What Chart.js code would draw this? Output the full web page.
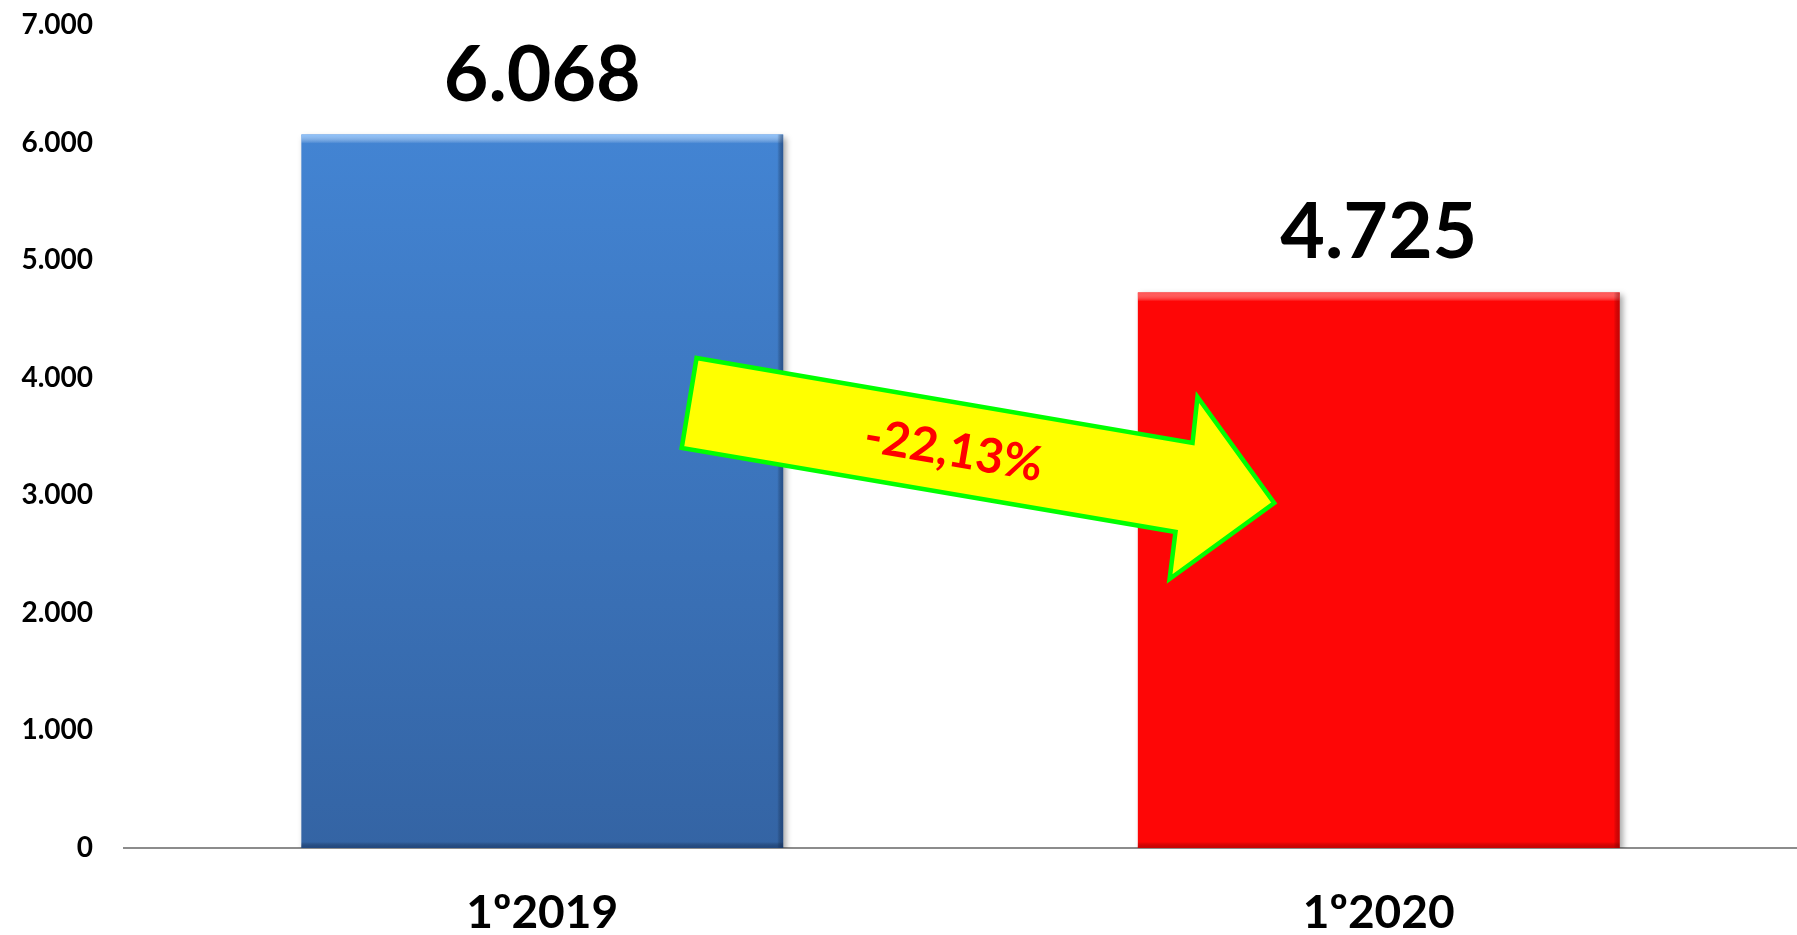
<!DOCTYPE html>
<html>
<head>
<meta charset="utf-8">
<script src="https://cdn.jsdelivr.net/npm/chart.js@4.4.1/dist/chart.umd.min.js"></script>
<style>
  html, body { margin: 0; padding: 0; background: #fff; }
  #wrap { width: 1797px; height: 935px; position: relative; }
</style>
</head>
<body>
<div id="wrap"><canvas id="chart"></canvas></div>
<script>
const categories = ['1º2019', '1º2020'];
const values = [6068, 4725];
const yTicks = [0, 1000, 2000, 3000, 4000, 5000, 6000, 7000];
const changeLabel = '-22,13%';

const FONT = 'Lato, "Open Sans", sans-serif';

function fmt(v) {
    return String(v).replace(/\B(?=(\d{3})+(?!\d))/g, '.');
}

// blue bar gets a vertical gradient, red stays flat
function barFill(ctx) {
    const chart = ctx.chart;
    const area = chart.chartArea;
    if (!area) return '#3f7cc8';
    if (ctx.dataIndex === 1) return '#fe0606';
    const g = chart.ctx.createLinearGradient(0, area.top, 0, area.bottom);
    g.addColorStop(0, '#4589da');
    g.addColorStop(1, '#3464a4');
    return g;
}

const shadowPlugin = {
    id: 'shadow',
    beforeDatasetsDraw(chart) {
        const c = chart.ctx;
        c.save();
        c.shadowColor = 'rgba(0,0,0,0.35)';
        c.shadowBlur = 6;
        c.shadowOffsetX = 3;
        c.shadowOffsetY = 3;
    },
    afterDatasetsDraw(chart) {
        chart.ctx.restore();
        const c = chart.ctx;
        // light bevel on top edge, darker rim on the sides
        chart.getDatasetMeta(0).data.forEach((bar, i) => {
            const left = bar.x - bar.width / 2, right = bar.x + bar.width / 2;
            const top = bar.y, bottom = bar.base;
            const light = i === 0 ? 'rgba(150,200,255,0.9)' : 'rgba(255,90,90,0.9)';
            const dark = i === 0 ? 'rgba(20,50,100,0.55)' : 'rgba(140,0,0,0.45)';
            let g = c.createLinearGradient(0, top, 0, top + 9);
            g.addColorStop(0, light);
            g.addColorStop(1, 'rgba(255,255,255,0)');
            c.fillStyle = g;
            c.fillRect(left, top, right - left, 9);
            g = c.createLinearGradient(right - 6, 0, right, 0);
            g.addColorStop(0, 'rgba(0,0,0,0)');
            g.addColorStop(1, dark);
            c.fillStyle = g;
            c.fillRect(right - 6, top, 6, bottom - top);
            g = c.createLinearGradient(0, bottom - 6, 0, bottom);
            g.addColorStop(0, 'rgba(0,0,0,0)');
            g.addColorStop(1, dark);
            c.fillStyle = g;
            c.fillRect(left, bottom - 6, right - left, 6);
        });
    }
};

const labelPlugin = {
    id: 'barLabels',
    afterDatasetsDraw(chart) {
        const c = chart.ctx;
        c.save();
        c.font = 'bold 77px ' + FONT;
        c.fillStyle = '#000';
        c.textAlign = 'center';
        c.textBaseline = 'alphabetic';
        chart.getDatasetMeta(0).data.forEach((bar, i) => {
            c.fillText(fmt(values[i]), bar.x, bar.y - 34);
        });
        c.restore();
    }
};

// yellow arrow between the bars, positioned via scales
const arrowPlugin = {
    id: 'arrow',
    afterDraw(chart) {
        const xs = chart.scales.x, ys = chart.scales.y;
        const x0 = xs.getPixelForValue(0), x1 = xs.getPixelForValue(1);
        const P = (f, v) => [x0 + f * (x1 - x0), ys.getPixelForValue(v)];
        const pts = [
            P(0.1845, 4168), P(0.7774, 3445), P(0.7833, 3836),
            P(0.875, 2934), P(0.75, 2288), P(0.757, 2688), P(0.1667, 3402)
        ];
        const c = chart.ctx;
        c.save();
        c.beginPath();
        pts.forEach((p, i) => i ? c.lineTo(p[0], p[1]) : c.moveTo(p[0], p[1]));
        c.closePath();
        c.fillStyle = '#ffff00';
        c.fill();
        c.lineWidth = 4.5;
        c.lineJoin = 'miter';
        c.strokeStyle = '#00ff00';
        c.stroke();
        const t = P(0.4917, 3377);
        c.translate(t[0], t[1]);
        c.rotate(Math.atan2(pts[1][1] - pts[0][1], pts[1][0] - pts[0][0]));
        c.font = 'bold 48px ' + FONT;
        c.fillStyle = '#ff0000';
        c.textAlign = 'center';
        c.textBaseline = 'middle';
        c.fillText(changeLabel, 0, 0);
        c.restore();
    }
};

new Chart('chart', {
    type: 'bar',
    data: {
        labels: categories,
        datasets: [{
            data: values,
            backgroundColor: barFill,
            borderWidth: 0,
            barPercentage: 0.576,
            categoryPercentage: 1
        }]
    },
    options: {
        responsive: true,
        maintainAspectRatio: false,
        animation: false,
        layout: { padding: { top: 0, left: 0, bottom: 0, right: -6 } },
        plugins: { legend: { display: false }, tooltip: { enabled: false } },
        scales: {
            x: {
                grid: { display: false, drawTicks: false },
                border: { display: true, color: '#8c8c8c', width: 2 },
                ticks: {
                    color: '#000',
                    padding: 38,
                    font: { family: FONT, size: 46, weight: 'bold' }
                },
                afterFit(s) { s.height = 87; }
            },
            y: {
                min: 0,
                max: 7000,
                grid: { display: false, drawTicks: false },
                border: { display: false },
                afterBuildTicks(s) { s.ticks = yTicks.map(v => ({ value: v })); },
                ticks: {
                    color: '#000',
                    padding: 31,
                    font: { family: FONT, size: 28, weight: 'bold' },
                    callback: v => fmt(v)
                },
                afterFit(s) {
                    s.width = 124;
                    s.paddingTop = 25;
                    s.paddingBottom = 20;
                }
            }
        }
    },
    plugins: [shadowPlugin, labelPlugin, arrowPlugin]
});
</script>
</body>
</html>
